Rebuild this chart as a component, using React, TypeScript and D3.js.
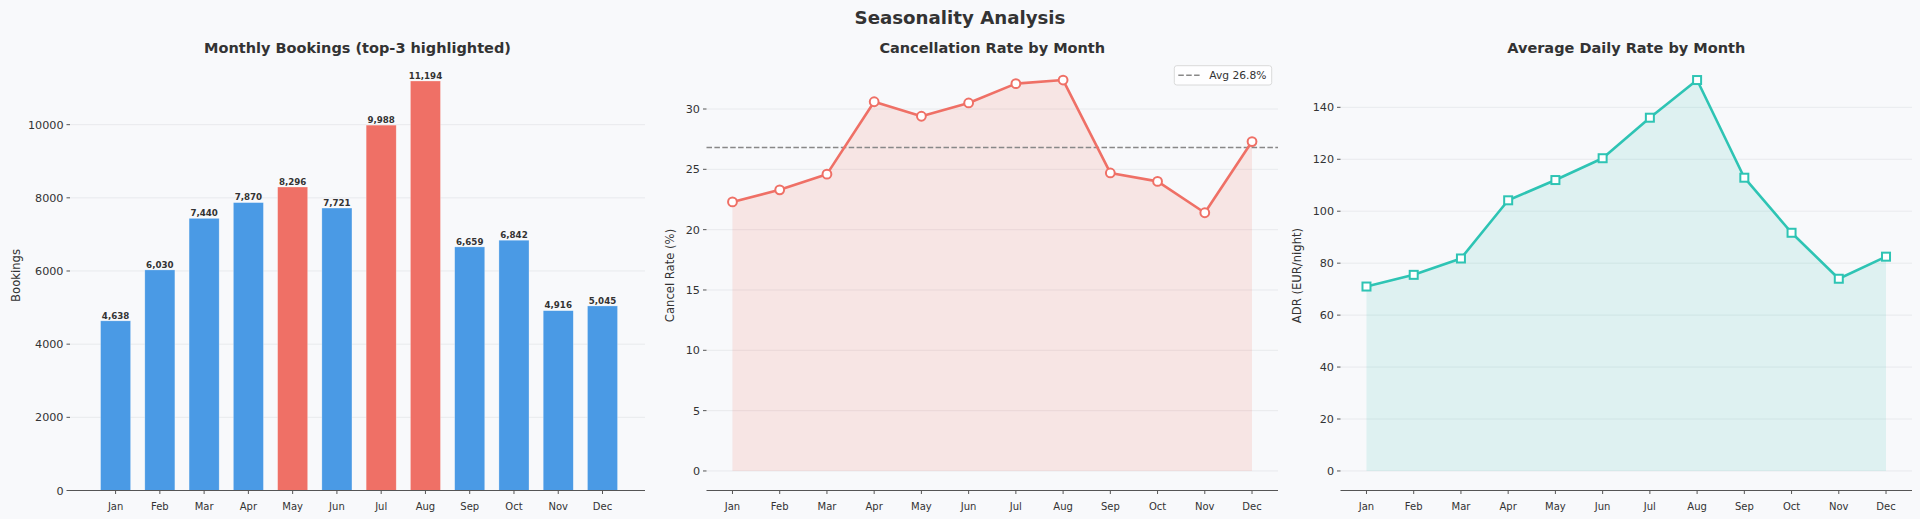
import React from 'react'
import * as d3 from 'd3'

// Data
const months = ['Jan', 'Feb', 'Mar', 'Apr', 'May', 'Jun', 'Jul', 'Aug', 'Sep', 'Oct', 'Nov', 'Dec']
const bookings = [4638, 6030, 7440, 7870, 8296, 7721, 9988, 11194, 6659, 6842, 4916, 5045]
const cancelRate = [22.3, 23.3, 24.6, 30.6, 29.4, 30.5, 32.1, 32.4, 24.7, 24.0, 21.4, 27.3]
const avgCancel = 26.8
const adr = [71.0, 75.5, 81.8, 104.2, 112.0, 120.4, 136.0, 150.5, 112.9, 91.7, 74.0, 82.5]

const bookingTicks = [0, 2000, 4000, 6000, 8000, 10000]
const cancelTicks = [0, 5, 10, 15, 20, 25, 30]
const adrTicks = [0, 20, 40, 60, 80, 100, 120, 140]

const W = 1920
const H = 519
const FONT = 'DejaVu Sans, Verdana, sans-serif'
const BG = '#f8f9fb'
const TEXT = '#333333'
const AXIS = '#555555'
const GRID = '#e6e8eb'
const BLUE = '#4a9ae5'
const RED = '#ef7066'
const TEAL = '#2ec4b4'

const TOP = 60.5
const BOTTOM = 490.5

// panel horizontal extents
const panels = {
  left: [70, 645],
  mid: [706.5, 1278],
  right: [1340.5, 1912]
}

const fmt = d3.format(',')

interface AxisProps {
  x0: number
  x1: number
  x: d3.ScaleLinear<number, number>
  y: d3.ScaleLinear<number, number>
  ticks: number[]
  title: string
  ylabel: string
  ylabelX: number
}

const Frame: React.FC<AxisProps> = ({ x0, x1, x, y, ticks, title, ylabel, ylabelX }) => (
  <g>
    {/* title */}
    <text
      x={(x0 + x1) / 2}
      y={53.3}
      textAnchor="middle"
      fontSize={14.5}
      fontWeight="bold"
      fill={TEXT}
    >
      {title}
    </text>
    {/* y ticks */}
    {ticks.map(t => (
      <g key={t}>
        <line x1={x0 - 3.5} x2={x0} y1={y(t)} y2={y(t)} stroke={AXIS} strokeWidth={1} />
        <text
          x={x0 - 6.5}
          y={y(t)}
          dy="0.36em"
          textAnchor="end"
          fontSize={11.2}
          fill={TEXT}
        >
          {t}
        </text>
      </g>
    ))}
    {/* x ticks */}
    {months.map((m, i) => (
      <g key={m}>
        <line x1={x(i)} x2={x(i)} y1={BOTTOM} y2={BOTTOM + 3.5} stroke={AXIS} strokeWidth={1} />
        <text x={x(i)} y={509.5} textAnchor="middle" fontSize={10} fill={TEXT}>
          {m}
        </text>
      </g>
    ))}
    {/* bottom spine */}
    <line x1={x0} x2={x1} y1={BOTTOM} y2={BOTTOM} stroke={AXIS} strokeWidth={1.2} />
    {/* y label */}
    <text
      transform={`translate(${ylabelX},${(TOP + BOTTOM) / 2}) rotate(-90)`}
      textAnchor="middle"
      fontSize={11.6}
      fill={TEXT}
    >
      {ylabel}
    </text>
  </g>
)

const Grid: React.FC<{ x0: number; x1: number; y: d3.ScaleLinear<number, number>; ticks: number[] }> = ({
  x0,
  x1,
  y,
  ticks
}) => (
  <g>
    {ticks.map(t => (
      <line key={t} x1={x0} x2={x1} y1={y(t)} y2={y(t)} stroke={GRID} strokeWidth={0.9} />
    ))}
  </g>
)

const BookingsPanel: React.FC = () => {
  const [x0, x1] = panels.left
  const x = d3.scaleLinear().domain([-1.03, 11.96]).range([x0, x1])
  const maxB = d3.max(bookings) as number
  const y = d3.scaleLinear().domain([0, maxB * 1.05]).range([BOTTOM, TOP])
  const top3 = [...bookings].sort((a, b) => b - a).slice(0, 3)
  const bw = (x(0.34) - x(-0.34))

  return (
    <g>
      <Grid x0={x0} x1={x1} y={y} ticks={bookingTicks.slice(1)} />
      {bookings.map((v, i) => (
        <rect
          key={months[i]}
          x={x(i) - bw / 2}
          y={y(v)}
          width={bw}
          height={y(0) - y(v)}
          fill={top3.includes(v) ? RED : BLUE}
          stroke="#ffffff"
          strokeOpacity={0.5}
          strokeWidth={0.6}
        />
      ))}
      {bookings.map((v, i) => (
        <text
          key={'l' + months[i]}
          x={x(i)}
          y={y(v) - 2.2}
          textAnchor="middle"
          fontSize={8.7}
          fontWeight="bold"
          fill={TEXT}
        >
          {fmt(v)}
        </text>
      ))}
      <Frame
        x0={x0}
        x1={x1}
        x={x}
        y={y}
        ticks={bookingTicks}
        title="Monthly Bookings (top-3 highlighted)"
        ylabel="Bookings"
        ylabelX={19.8}
      />
    </g>
  )
}

const CancelPanel: React.FC = () => {
  const [x0, x1] = panels.mid
  const x = d3.scaleLinear().domain([-0.55, 11.55]).range([x0, x1])
  const maxC = d3.max(cancelRate) as number
  const pad = maxC * 0.05
  const y = d3.scaleLinear().domain([-pad, maxC + pad]).range([BOTTOM, TOP])
  const area = d3.area<number>().x((_, i) => x(i)).y0(y(0)).y1(d => y(d))
  const line = d3.line<number>().x((_, i) => x(i)).y(d => y(d))

  const lx = 1174.3
  const ly = 65.7

  return (
    <g>
      <Grid x0={x0} x1={x1} y={y} ticks={cancelTicks} />
      <path d={area(cancelRate) || ''} fill={RED} fillOpacity={0.15} />
      <line
        x1={x0}
        x2={x1}
        y1={y(avgCancel)}
        y2={y(avgCancel)}
        stroke="#888888"
        strokeWidth={1.5}
        strokeDasharray="5.5 2.4"
      />
      <path d={line(cancelRate) || ''} fill="none" stroke={RED} strokeWidth={2.6} strokeLinejoin="round" />
      {cancelRate.map((v, i) => (
        <circle key={i} cx={x(i)} cy={y(v)} r={4.4} fill="#ffffff" stroke={RED} strokeWidth={2} />
      ))}
      {/* legend */}
      <rect
        x={lx}
        y={ly}
        width={97.4}
        height={19.3}
        rx={2.5}
        fill="#ffffff"
        fillOpacity={0.85}
        stroke="#d6d6d6"
        strokeWidth={0.9}
      />
      <line
        x1={lx + 4}
        x2={lx + 27}
        y1={ly + 9.6}
        y2={ly + 9.6}
        stroke="#888888"
        strokeWidth={1.5}
        strokeDasharray="5.5 2.4"
      />
      <text x={lx + 35} y={ly + 13.5} fontSize={10.7} fill={TEXT}>
        {`Avg ${avgCancel}%`}
      </text>
      <Frame
        x0={x0}
        x1={x1}
        x={x}
        y={y}
        ticks={cancelTicks}
        title="Cancellation Rate by Month"
        ylabel="Cancel Rate (%)"
        ylabelX={674}
      />
    </g>
  )
}

const AdrPanel: React.FC = () => {
  const [x0, x1] = panels.right
  const x = d3.scaleLinear().domain([-0.55, 11.55]).range([x0, x1])
  const maxA = d3.max(adr) as number
  const pad = maxA * 0.05
  const y = d3.scaleLinear().domain([-pad, maxA + pad]).range([BOTTOM, TOP])
  const area = d3.area<number>().x((_, i) => x(i)).y0(y(0)).y1(d => y(d))
  const line = d3.line<number>().x((_, i) => x(i)).y(d => y(d))
  const s = 8

  return (
    <g>
      <Grid x0={x0} x1={x1} y={y} ticks={adrTicks} />
      <path d={area(adr) || ''} fill={TEAL} fillOpacity={0.13} />
      <path d={line(adr) || ''} fill="none" stroke={TEAL} strokeWidth={2.6} strokeLinejoin="round" />
      {adr.map((v, i) => (
        <rect
          key={i}
          x={x(i) - s / 2}
          y={y(v) - s / 2}
          width={s}
          height={s}
          fill="#ffffff"
          stroke={TEAL}
          strokeWidth={2}
        />
      ))}
      <Frame
        x0={x0}
        x1={x1}
        x={x}
        y={y}
        ticks={adrTicks}
        title="Average Daily Rate by Month"
        ylabel="ADR (EUR/night)"
        ylabelX={1300.5}
      />
    </g>
  )
}

export default function App() {
  return (
    <>
      <style>{`body{margin:0;background:${BG}}`}</style>
      <svg width={W} height={H} style={{ display: 'block', fontFamily: FONT }}>
        <rect width={W} height={H} fill={BG} />
        <text x={W / 2} y={23.5} textAnchor="middle" fontSize={18.2} fontWeight="bold" fill={TEXT}>
          Seasonality Analysis
        </text>
        <BookingsPanel />
        <CancelPanel />
        <AdrPanel />
      </svg>
    </>
  )
}
